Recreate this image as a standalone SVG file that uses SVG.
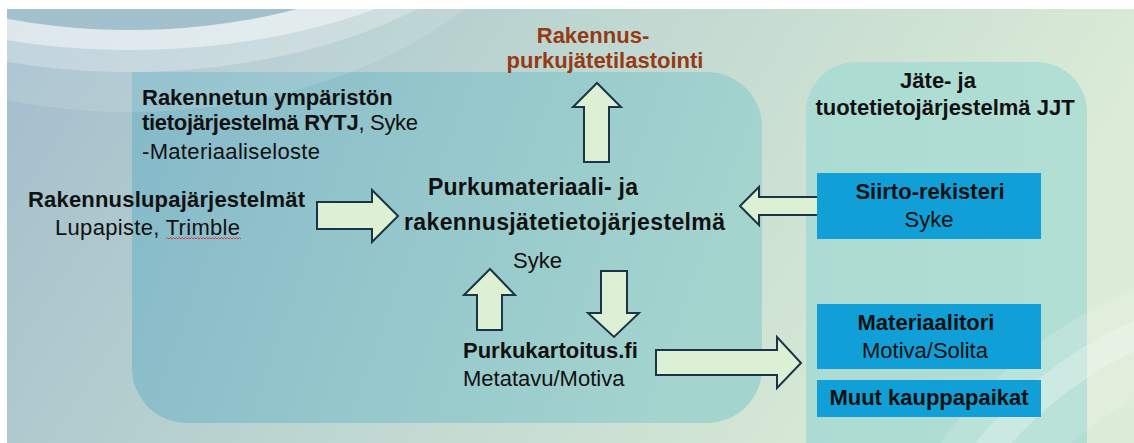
<svg xmlns="http://www.w3.org/2000/svg" width="1134" height="443" viewBox="0 0 1134 443">
<style>
.t{font-family:"Liberation Sans",Arial,sans-serif;font-size:22px;fill:#111}
.b{font-weight:bold}
.c{text-anchor:middle}
.br{fill:#953a14}
.lg{font-size:23px}
.arrow{fill:#dcf1d4;stroke:#1c3447;stroke-width:2;stroke-linejoin:miter}
.box{fill:#109fd6}
</style>
<defs>
<linearGradient id="bg" x1="0" y1="0" x2="1" y2="0.25">
<stop offset="0" stop-color="#a2bdcc"/>
<stop offset="0.5" stop-color="#bed7d1"/>
<stop offset="1" stop-color="#dcecd6"/>
</linearGradient>
<linearGradient id="lr" x1="0" y1="0" x2="1" y2="0.2">
<stop offset="0" stop-color="#86b9c9"/>
<stop offset="1" stop-color="#a3d4ce"/>
</linearGradient>
<linearGradient id="rr" x1="0" y1="0" x2="1" y2="0">
<stop offset="0" stop-color="#abdbd2"/>
<stop offset="1" stop-color="#b2dfd4"/>
</linearGradient>
<clipPath id="clip"><rect x="7" y="9" width="1127" height="434"/></clipPath>
</defs>
<rect width="1134" height="443" fill="#ffffff"/>
<g id="background" clip-path="url(#clip)">
<rect x="7" y="9" width="1127" height="434" fill="url(#bg)"/>
</g>
<g id="container-purku">
<path d="M132,72 H707 A55,55 0 0 1 762,127 V368 A55,55 0 0 1 707,423 H187 A55,55 0 0 1 132,368 Z" fill="url(#lr)"/>
</g>
<g id="container-jjt">
<path d="M806,443 V112 A50,50 0 0 1 856,62 H1037 A50,50 0 0 1 1087,112 V443 Z" fill="url(#rr)"/>
</g>
<g id="decor-arcs" clip-path="url(#clip)">
<ellipse cx="130" cy="-200" rx="451" ry="312" fill="#ffffff" fill-opacity="0.13"/>
<ellipse cx="130" cy="-200" rx="450" ry="272" fill="#ffffff" fill-opacity="0.25"/>
<ellipse cx="130" cy="-200" rx="447" ry="250" fill="#ffffff" fill-opacity="0.45"/>
<ellipse cx="130" cy="-200" rx="400" ry="230" fill="#a3c0cd"/>
<circle cx="1300" cy="700" r="428" fill="none" stroke="#ffffff" stroke-opacity="0.15" stroke-width="28"/>
<circle cx="1300" cy="700" r="400" fill="none" stroke="#ffffff" stroke-opacity="0.35" stroke-width="28"/>
<circle cx="1300" cy="700" r="365" fill="none" stroke="#ffffff" stroke-opacity="0.12" stroke-width="42"/>
</g>
<g id="connectors">
<polygon class="arrow" points="317,202 372,202 372,190 398,216 372,242 372,229 317,229"/>
<polygon class="arrow" points="584,162 584,107 573,107 597,83 621,107 609,107 609,162"/>
<polygon class="arrow" points="819,197 759,197 759,187 740,206 759,225 759,215 819,215"/>
<polygon class="arrow" points="477,330 477,295 464,295 490,269 515,295 502,295 502,330"/>
<polygon class="arrow" points="601,271 627,271 627,313 639,313 614,337 588,313 601,313"/>
<polygon class="arrow" points="656,350 777,350 777,337 801,363 777,388 777,375 656,375"/>
</g>
<g id="node-rytj">
<text class="t b" x="142" y="105">Rakennetun ympäristön</text>
<text class="t" x="142" y="130" textLength="276" lengthAdjust="spacing"><tspan class="b">tietojärjestelmä RYTJ</tspan>, Syke</text>
<text class="t" x="142" y="159" textLength="178" lengthAdjust="spacing">-Materiaaliseloste</text>
</g>
<g id="node-lupa">
<text class="t b" x="28" y="207" textLength="277" lengthAdjust="spacing">Rakennuslupajärjestelmät</text>
<text class="t" x="55" y="235" textLength="185" lengthAdjust="spacing">Lupapiste, Trimble</text>
<path d="M166,239 l1.5,-1.5 l1.5,1.5 l1.5,-1.5 l1.5,1.5 l1.5,-1.5 l1.5,1.5 l1.5,-1.5 l1.5,1.5 l1.5,-1.5 l1.5,1.5 l1.5,-1.5 l1.5,1.5 l1.5,-1.5 l1.5,1.5 l1.5,-1.5 l1.5,1.5 l1.5,-1.5 l1.5,1.5 l1.5,-1.5 l1.5,1.5 l1.5,-1.5 l1.5,1.5 l1.5,-1.5 l1.5,1.5 l1.5,-1.5 l1.5,1.5 l1.5,-1.5 l1.5,1.5 l1.5,-1.5 l1.5,1.5 l1.5,-1.5 l1.5,1.5 l1.5,-1.5 l1.5,1.5 l1.5,-1.5 l1.5,1.5 l1.5,-1.5 l1.5,1.5 l1.5,-1.5 l1.5,1.5 l1.5,-1.5 l1.5,1.5 l1.5,-1.5 l1.5,1.5 l1.5,-1.5 l1.5,1.5 l1.5,-1.5 l1.5,1.5 l1.5,-1.5 l1.5,1.5" fill="none" stroke="#e03030" stroke-width="0.9"/>
</g>
<g id="node-tilastointi">
<text class="t b c br" x="593" y="43">Rakennus-</text>
<text class="t b c br" x="605" y="68">purkujätetilastointi</text>
</g>
<g id="node-purku">
<text class="t b lg" x="428" y="195" textLength="210" lengthAdjust="spacing">Purkumateriaali- ja</text>
<text class="t b lg" x="404" y="230" textLength="321" lengthAdjust="spacing">rakennusjätetietojärjestelmä</text>
<text class="t" x="513" y="268">Syke</text>
</g>
<g id="node-purkukartoitus">
<text class="t b" x="463" y="358">Purkukartoitus.fi</text>
<text class="t" x="463" y="386">Metatavu/Motiva</text>
</g>
<g id="node-jjt">
<text class="t b c" x="938" y="88">Jäte- ja</text>
<text class="t b c" x="945" y="115">tuotetietojärjestelmä JJT</text>
</g>
<g id="node-siirto">
<rect class="box" x="817" y="173" width="224" height="66"/>
<text class="t b c" x="930" y="199">Siirto-rekisteri</text>
<text class="t c" x="929" y="227">Syke</text>
</g>
<g id="node-materiaalitori">
<rect class="box" x="817" y="304" width="224" height="65"/>
<text class="t b c" x="926" y="330">Materiaalitori</text>
<text class="t c" x="925" y="358">Motiva/Solita</text>
</g>
<g id="node-muut">
<rect class="box" x="817" y="380" width="224" height="37"/>
<text class="t b c" x="929" y="405">Muut kauppapaikat</text>
</g>
</svg>
